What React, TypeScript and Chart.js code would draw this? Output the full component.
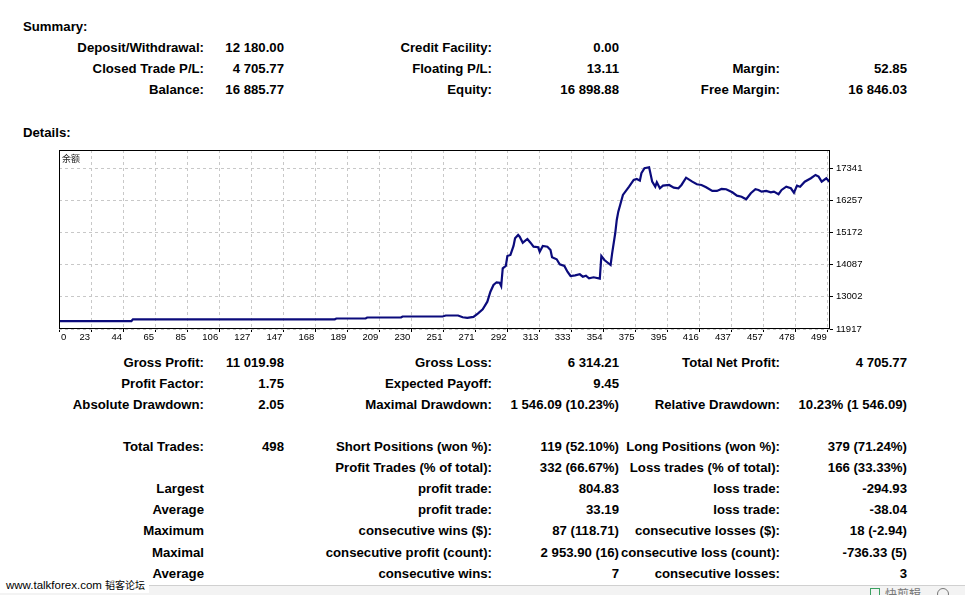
import React, { useEffect, useRef } from "react";
import { Chart, registerables } from "chart.js";
Chart.register(...registerables);

// ---- chart data ----
const seriesLabel = "余额";
const tradeIndex = [0, 47, 48, 179, 180, 199, 200, 222, 223, 249, 251, 259, 262, 265, 269, 272, 275, 278, 280, 282, 284, 286, 287, 288, 290, 291, 293, 295, 296, 298, 299, 301, 304, 306, 308, 311, 312, 314, 317, 319, 320, 323, 325, 328, 330, 332, 335, 338, 340, 342, 344, 347, 351, 352, 354, 358, 359, 361, 362, 363, 366, 370, 373, 375, 377, 378, 380, 383, 385, 387, 388, 390, 392, 396, 399, 402, 404, 407, 411, 414, 417, 420, 424, 427, 430, 433, 437, 440, 443, 446, 449, 452, 454, 456, 459, 462, 464, 467, 469, 472, 475, 477, 479, 481, 484, 488, 491, 493, 495, 498, 500];
const balance = [12180, 12185, 12245, 12245, 12272, 12272, 12305, 12305, 12339, 12339, 12372, 12373, 12312, 12292, 12326, 12447, 12582, 12839, 13177, 13403, 13494, 13480, 13369, 13967, 14045, 14382, 14416, 14720, 14980, 15091, 15034, 14831, 14956, 14831, 14696, 14676, 14527, 14720, 14696, 14585, 14338, 14271, 14102, 14045, 13852, 13707, 13730, 13764, 13683, 13717, 13629, 13663, 13616, 14382, 14247, 14078, 14473, 15149, 15598, 15878, 16442, 16722, 16949, 16983, 16925, 17175, 17344, 17378, 16891, 16722, 16871, 16668, 16756, 16780, 16689, 16668, 16780, 17026, 16891, 16803, 16780, 16702, 16577, 16577, 16645, 16635, 16533, 16418, 16384, 16297, 16499, 16635, 16611, 16554, 16577, 16533, 16554, 16466, 16611, 16722, 16668, 16520, 16756, 16722, 16891, 17006, 17118, 17060, 16891, 17006, 16886];
const xTickLabels = ["0", "23", "44", "65", "85", "106", "127", "147", "168", "189", "209", "230", "251", "271", "292", "313", "333", "354", "375", "395", "416", "437", "457", "478", "499"];
const yTickLabels = [11917, 13002, 14087, 15172, 16257, 17341];
const X_MIN = 0;
const X_LAST_TICK = 499;
const X_MAX = 500.4;
const Y_MIN = 11917;
const Y_MAX = 17960;

// ---- report text ----
const summaryRows = [
  ["Deposit/Withdrawal:", "12 180.00", "Credit Facility:", "0.00", "", ""],
  ["Closed Trade P/L:", "4 705.77", "Floating P/L:", "13.11", "Margin:", "52.85"],
  ["Balance:", "16 885.77", "Equity:", "16 898.88", "Free Margin:", "16 846.03"],
];
const detailRowsA = [
  ["Gross Profit:", "11 019.98", "Gross Loss:", "6 314.21", "Total Net Profit:", "4 705.77"],
  ["Profit Factor:", "1.75", "Expected Payoff:", "9.45", "", ""],
  ["Absolute Drawdown:", "2.05", "Maximal Drawdown:", "1 546.09 (10.23%)", "Relative Drawdown:", "10.23% (1 546.09)"],
];
const detailRowsB = [
  ["Total Trades:", "498", "Short Positions (won %):", "119 (52.10%)", "Long Positions (won %):", "379 (71.24%)"],
  ["", "", "Profit Trades (% of total):", "332 (66.67%)", "Loss trades (% of total):", "166 (33.33%)"],
  ["Largest", "", "profit trade:", "804.83", "loss trade:", "-294.93"],
  ["Average", "", "profit trade:", "33.19", "loss trade:", "-38.04"],
  ["Maximum", "", "consecutive wins ($):", "87 (118.71)", "consecutive losses ($):", "18 (-2.94)"],
  ["Maximal", "", "consecutive profit (count):", "2 953.90 (16)", "consecutive loss (count):", "-736.33 (5)"],
  ["Average", "", "consecutive wins:", "7", "consecutive losses:", "3"],
];

const COL_RIGHT = [204, 284, 492, 619, 780, 907];
const PAGE_W = 965;
const FONT = '"Liberation Sans", Arial, sans-serif';

function Rows({ rows, top, step }: { rows: string[][]; top: number; step: number }) {
  return (
    <>
      {rows.map((r, ri) =>
        r.map((t, ci) =>
          t ? (
            <div
              key={ri + "-" + ci}
              style={{
                position: "absolute",
                right: PAGE_W - COL_RIGHT[ci],
                top: top + ri * step - 8,
                lineHeight: "16px",
                whiteSpace: "nowrap",
              }}
            >
              {t}
            </div>
          ) : null
        )
      )}
    </>
  );
}

function BalanceChart() {
  const ref = useRef<HTMLCanvasElement | null>(null);
  useEffect(() => {
    if (!ref.current) return;
    const points = tradeIndex.map((x, i) => ({ x, y: balance[i] }));
    const frame = {
      id: "frame",
      afterDraw(chart: any) {
        const { ctx, chartArea: a, scales } = chart;
        ctx.save();
        ctx.strokeStyle = "#000";
        ctx.lineWidth = 1;
        ctx.strokeRect(Math.round(a.left) + 0.5, Math.round(a.top) + 0.5, Math.round(a.right - a.left) - 1, Math.round(a.bottom - a.top) - 1);
        // x labels
        ctx.fillStyle = "#000";
        ctx.font = '9.5px "Liberation Sans", Arial, sans-serif';
        ctx.textBaseline = "middle";
        const xs = scales.x;
        xTickLabels.forEach((lab, k) => {
          const px = xs.getPixelForValue((k * X_LAST_TICK) / (xTickLabels.length - 1));
          if (k === 0) {
            ctx.textAlign = "left";
            ctx.fillText(lab, px + 2, a.bottom + 8);
          } else {
            ctx.textAlign = "right";
            ctx.fillText(lab, px - 1, a.bottom + 8);
          }
        });
        // series label
        ctx.textAlign = "left";
        ctx.fillStyle = "#222";
        ctx.font = '9px "Noto Sans CJK SC", sans-serif';
        ctx.fillText(seriesLabel, a.left + 3, a.top + 9);
        ctx.restore();
      },
    };
    const chart = new Chart(ref.current, {
      type: "line",
      data: {
        datasets: [
          {
            label: seriesLabel,
            data: points,
            borderColor: "#0b0b7c",
            borderWidth: 2.2,
            pointRadius: 0,
            tension: 0,
            fill: false,
          },
        ],
      },
      options: {
        animation: false,
        responsive: false,
        events: [],
        layout: { padding: { left: 9, top: 10, right: 0, bottom: 0 } },
        plugins: { legend: { display: false }, tooltip: { enabled: false }, title: { display: false } },
        scales: {
          x: {
            type: "linear",
            min: X_MIN,
            max: X_MAX,
            afterBuildTicks: (s: any) => {
              s.ticks = xTickLabels.map((_, k) => ({ value: (k * X_LAST_TICK) / (xTickLabels.length - 1) }));
            },
            afterFit: (s: any) => {
              s.height = 21;
            },
            ticks: { display: false },
            grid: { color: "#c8c8c8", tickColor: "#000", tickLength: 3, lineWidth: 1 },
            border: { display: false, dash: [3, 3] },
          },
          y: {
            type: "linear",
            position: "right",
            min: Y_MIN,
            max: Y_MAX,
            afterBuildTicks: (s: any) => {
              s.ticks = yTickLabels.map((v) => ({ value: v }));
            },
            afterFit: (s: any) => {
              s.width = 70;
            },
            ticks: {
              color: "#000",
              padding: 3,
              font: { size: 9.5, family: '"Liberation Sans", Arial, sans-serif' },
              callback: (v: any) => String(v),
            },
            grid: { color: "#c8c8c8", tickColor: "#000", tickLength: 3, lineWidth: 1 },
            border: { display: false, dash: [3, 3] },
          },
        },
      },
      plugins: [frame],
    });
    return () => chart.destroy();
  }, []);
  return <canvas ref={ref} width={850} height={210} style={{ display: "block" }} />;
}

export default function App() {
  return (
    <div
      style={{
        position: "absolute",
        left: 0,
        top: 0,
        width: PAGE_W,
        height: 595,
        overflow: "hidden",
        background: "#fff",
        fontFamily: FONT,
        fontWeight: "bold",
        fontSize: 13.2,
        color: "#000",
      }}
    >
      <div style={{ position: "absolute", left: 23, top: 27 - 8, lineHeight: "16px" }}>Summary:</div>
      <Rows rows={summaryRows} top={48} step={20.8} />
      <div style={{ position: "absolute", left: 23, top: 132.5 - 8, lineHeight: "16px" }}>Details:</div>
      <div style={{ position: "absolute", left: 50, top: 140 }}>
        <BalanceChart />
      </div>
      <Rows rows={detailRowsA} top={362.5} step={21} />
      <Rows rows={detailRowsB} top={447} step={21.1} />
      <div
        style={{
          position: "absolute",
          left: 0,
          top: 585,
          width: PAGE_W,
          height: 10,
          background: "#f3f3f3",
          borderTop: "1px solid #d0d0d0",
        }}
      >
        <div style={{ position: "absolute", left: 870, top: 2, width: 10, height: 10, border: "1px solid #3aa060", boxSizing: "border-box" }} />
        <div style={{ position: "absolute", left: 885, top: 1, fontSize: 12, fontWeight: "normal", color: "#777", fontFamily: '"Noto Sans CJK SC", sans-serif', lineHeight: "14px" }}>快剪辑</div>
        <div style={{ position: "absolute", left: 937, top: 2, width: 12, height: 12, border: "1px solid #777", borderRadius: 6, boxSizing: "border-box" }} />
      </div>
      <div
        style={{
          position: "absolute",
          left: 0,
          top: 577,
          padding: "0 4px 0 6px",
          background: "#fff",
          fontWeight: "normal",
          fontSize: 11.5,
          lineHeight: "15px",
          whiteSpace: "nowrap",
        }}
      >
        www.talkforex.com <span style={{ fontFamily: '"Noto Sans CJK SC", sans-serif', fontSize: 10 }}>韬客论坛</span>
      </div>
    </div>
  );
}
